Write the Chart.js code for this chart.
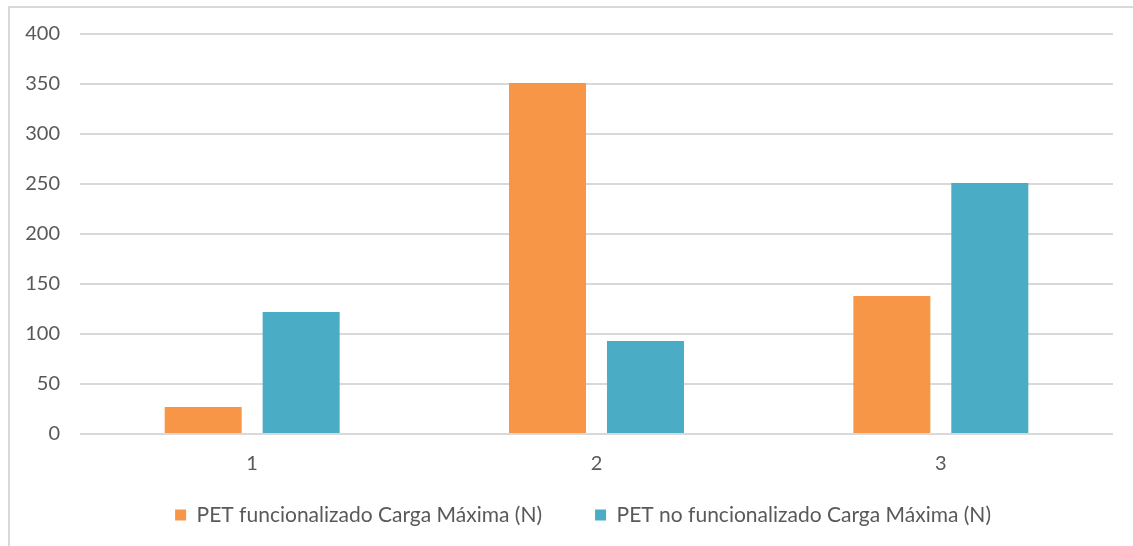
<!DOCTYPE html>
<html>
<head>
<meta charset="utf-8">
<script src="https://cdn.jsdelivr.net/npm/chart.js@4.4.1/dist/chart.umd.min.js"></script>
<style>
  html, body { margin: 0; padding: 0; background: #fff; }
  #wrap { position: relative; width: 1133px; height: 546px; overflow: hidden; }
  #frame { position: absolute; left: 8px; top: 6px; width: 1200px; height: 600px;
           border-top: 2px solid #d9d9d9; border-left: 2px solid #d9d9d9; }
  #chart { position: absolute; left: 0; top: 0; }
</style>
</head>
<body>
<div id="wrap">
  <div id="frame"></div>
  <canvas id="chart" width="1133" height="546"></canvas>
</div>
<script>
  // data
  const categories = ["1", "2", "3"];
  const petFuncionalizado = [27, 351, 138];
  const petNoFuncionalizado = [122, 93, 251];
  const seriesNames = ["PET funcionalizado Carga Máxima (N)", "PET no funcionalizado Carga Máxima (N)"];

  const textColor = "#595959";
  const fontFamily = "Lato, 'Open Sans', sans-serif";

  const ctx = document.getElementById('chart');
  new Chart(ctx, {
    type: 'bar',
    data: {
      labels: categories,
      datasets: [
        {
          label: seriesNames[0],
          data: petFuncionalizado,
          backgroundColor: '#F79646',
          borderWidth: 0
        },
        {
          label: seriesNames[1],
          data: petNoFuncionalizado,
          backgroundColor: '#4BACC6',
          borderWidth: 0
        }
      ]
    },
    options: {
      responsive: false,
      animation: false,
      categoryPercentage: 0.569,
      barPercentage: 0.786,
      layout: {
        padding: { top: 34, left: 0, right: 20, bottom: 10.5 }
      },
      scales: {
        y: {
          min: 0,
          max: 400,
          afterFit: function(scale) { scale.width = 80; },
          border: { display: false },
          grid: {
            color: "#d9d9d9",
            lineWidth: 2,
            drawTicks: false
          },
          ticks: {
            stepSize: 50,
            padding: 20,
            color: textColor,
            font: { family: fontFamily, size: 20 }
          }
        },
        x: {
          afterFit: function(scale) { scale.height = 60.5; },
          border: { display: false },
          grid: { display: false, drawTicks: false },
          ticks: {
            padding: 18,
            color: textColor,
            font: { family: fontFamily, size: 20 }
          }
        }
      },
      plugins: {
        tooltip: { enabled: false },
        legend: {
          display: true,
          position: 'bottom',
          fullSize: false,
          labels: {
            boxWidth: 11,
            boxHeight: 11,
            padding: 10,
            color: textColor,
            font: { family: fontFamily, size: 21 },
            generateLabels: function(chart) {
              const items = Chart.defaults.plugins.legend.labels.generateLabels(chart);
              // spacing between entries / nudge line left like the original
              items[0].text = items[0].text + '        ';
              items[1].text = items[1].text + '     ';
              return items;
            }
          }
        }
      }
    }
  });
</script>
</body>
</html>
